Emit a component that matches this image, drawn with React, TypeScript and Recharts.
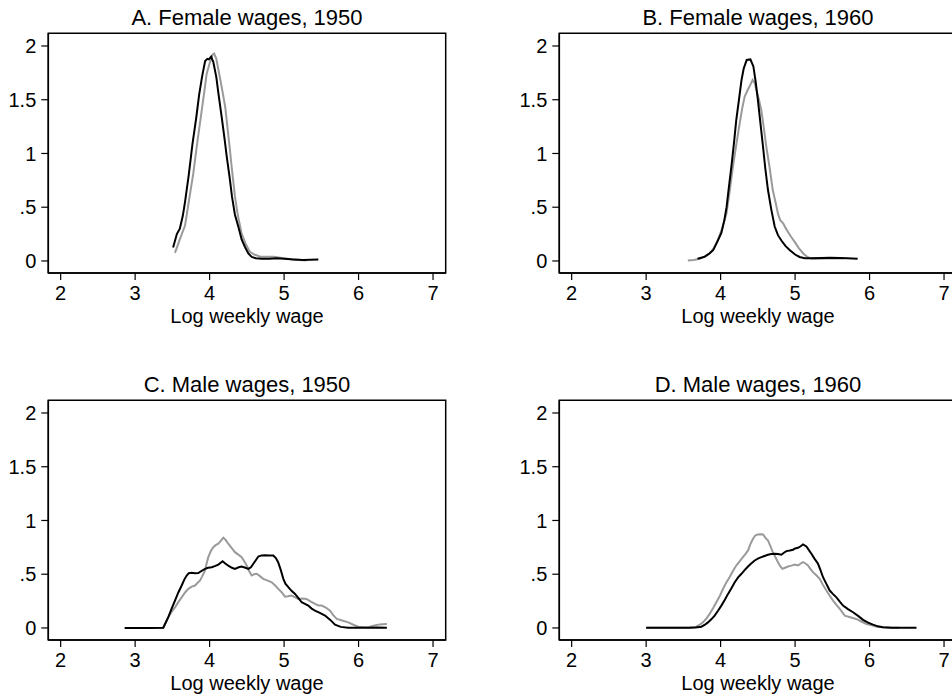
import React from 'react';
import { LineChart, Line, XAxis, YAxis, ReferenceArea } from 'recharts';

type Pt = [number, number];

// Kernel densities of log weekly wage.
// "dark" = black line, "light" = gray line.
const xTicks = [2, 3, 4, 5, 6, 7];
const yTicks = [0, 0.5, 1, 1.5, 2];

const female1950Dark: Pt[] = [
  [3.51, 0.125], [3.56, 0.25], [3.6, 0.3], [3.64, 0.42], [3.67, 0.55], [3.72, 0.8], [3.77, 1.09],
  [3.82, 1.33], [3.86, 1.55], [3.9, 1.72], [3.94, 1.86], [3.97, 1.88], [3.99, 1.875], [4.02, 1.9],
  [4.05, 1.85], [4.09, 1.71], [4.12, 1.55], [4.16, 1.35], [4.2, 1.14], [4.23, 0.97], [4.27, 0.77],
  [4.3, 0.6], [4.34, 0.43], [4.385, 0.32], [4.43, 0.2], [4.475, 0.13], [4.52, 0.07], [4.565, 0.037],
  [4.62, 0.025], [4.7, 0.02], [4.8, 0.02], [4.9, 0.025], [5.0, 0.02], [5.1, 0.015], [5.25, 0.01],
  [5.46, 0.013],
];
const female1950Light: Pt[] = [
  [3.535, 0.075], [3.6, 0.2], [3.67, 0.33], [3.72, 0.55], [3.78, 0.81], [3.83, 1.08], [3.89, 1.38],
  [3.93, 1.58], [3.96, 1.74], [4.0, 1.84], [4.04, 1.92], [4.06, 1.93], [4.09, 1.88], [4.14, 1.7],
  [4.18, 1.55], [4.21, 1.43], [4.27, 1.05], [4.3, 0.85], [4.34, 0.6], [4.38, 0.42], [4.43, 0.255],
  [4.49, 0.15], [4.54, 0.085], [4.6, 0.06], [4.68, 0.04], [4.78, 0.04], [4.86, 0.04], [4.95, 0.03],
  [5.04, 0.02], [5.14, 0.01], [5.22, 0.008], [5.3, 0.005],
];

const female1960Dark: Pt[] = [
  [3.69, 0.02], [3.74, 0.03], [3.79, 0.04], [3.85, 0.07], [3.9, 0.1], [3.95, 0.17], [4.01, 0.26],
  [4.05, 0.38], [4.08, 0.5], [4.11, 0.68], [4.145, 0.88], [4.18, 1.1], [4.21, 1.31], [4.25, 1.52],
  [4.28, 1.68], [4.31, 1.79], [4.35, 1.87], [4.4, 1.875], [4.44, 1.81], [4.47, 1.67], [4.5, 1.5],
  [4.535, 1.28], [4.57, 1.06], [4.6, 0.86], [4.636, 0.66], [4.68, 0.48], [4.726, 0.32], [4.77, 0.24],
  [4.816, 0.19], [4.87, 0.14], [4.93, 0.1], [5.0, 0.06], [5.06, 0.037], [5.13, 0.025], [5.2, 0.025],
  [5.35, 0.027], [5.47, 0.03], [5.6, 0.027], [5.7, 0.025], [5.84, 0.02],
];
const female1960Light: Pt[] = [
  [3.56, 0.005], [3.64, 0.01], [3.72, 0.02], [3.78, 0.04], [3.85, 0.07], [3.91, 0.12], [3.96, 0.19],
  [4.02, 0.3], [4.078, 0.44], [4.12, 0.64], [4.166, 0.88], [4.21, 1.08], [4.256, 1.28], [4.29, 1.42],
  [4.323, 1.53], [4.37, 1.6], [4.4, 1.64], [4.43, 1.685], [4.46, 1.65], [4.48, 1.59], [4.515, 1.5],
  [4.547, 1.4], [4.58, 1.24], [4.614, 1.06], [4.66, 0.86], [4.7, 0.66], [4.74, 0.54], [4.77, 0.44],
  [4.8, 0.38], [4.84, 0.35], [4.87, 0.31], [4.905, 0.27], [4.95, 0.22], [4.995, 0.177], [5.05, 0.12],
  [5.11, 0.07], [5.16, 0.04], [5.22, 0.02], [5.35, 0.02], [5.5, 0.025], [5.65, 0.022],
];

const male1950Dark: Pt[] = [
  [2.86, 0], [3.0, 0], [3.2, 0], [3.378, 0.002], [3.445, 0.1], [3.49, 0.18], [3.535, 0.255],
  [3.58, 0.33], [3.625, 0.395], [3.66, 0.45], [3.692, 0.488], [3.72, 0.51], [3.76, 0.513],
  [3.8, 0.508], [3.848, 0.51], [3.89, 0.53], [3.938, 0.55], [3.98, 0.56], [4.028, 0.565],
  [4.07, 0.575], [4.117, 0.59], [4.175, 0.62], [4.21, 0.6], [4.25, 0.58], [4.3, 0.56], [4.34, 0.55],
  [4.39, 0.565], [4.43, 0.572], [4.48, 0.56], [4.52, 0.55], [4.555, 0.565], [4.587, 0.597],
  [4.62, 0.63], [4.654, 0.665], [4.7, 0.675], [4.744, 0.677], [4.8, 0.675], [4.855, 0.674],
  [4.89, 0.65], [4.92, 0.612], [4.955, 0.54], [4.99, 0.457], [5.02, 0.41], [5.057, 0.379],
  [5.1, 0.345], [5.147, 0.317], [5.19, 0.28], [5.236, 0.239], [5.28, 0.225], [5.325, 0.208],
  [5.37, 0.18], [5.415, 0.161], [5.48, 0.14], [5.55, 0.115], [5.62, 0.075], [5.684, 0.03],
  [5.76, 0.01], [5.86, 0.002], [6.0, 0.002], [6.13, 0.002], [6.25, 0.004], [6.38, 0.003],
];
const male1950Light: Pt[] = [
  [2.86, 0], [3.0, 0], [3.2, 0], [3.378, 0.002], [3.445, 0.1], [3.49, 0.15], [3.535, 0.192],
  [3.58, 0.24], [3.625, 0.285], [3.67, 0.33], [3.714, 0.364], [3.76, 0.385], [3.804, 0.395],
  [3.84, 0.42], [3.87, 0.44], [3.9, 0.48], [3.938, 0.534], [3.96, 0.6], [3.982, 0.659], [4.02, 0.72],
  [4.05, 0.752], [4.08, 0.77], [4.117, 0.784], [4.15, 0.81], [4.184, 0.84], [4.215, 0.82],
  [4.25, 0.784], [4.3, 0.74], [4.34, 0.705], [4.39, 0.68], [4.43, 0.659], [4.465, 0.62],
  [4.498, 0.581], [4.53, 0.53], [4.565, 0.488], [4.6, 0.5], [4.632, 0.504], [4.68, 0.48],
  [4.72, 0.457], [4.78, 0.44], [4.834, 0.425], [4.88, 0.395], [4.922, 0.364], [4.97, 0.33],
  [5.012, 0.292], [5.05, 0.295], [5.1, 0.301], [5.15, 0.285], [5.19, 0.27], [5.25, 0.275],
  [5.3, 0.27], [5.36, 0.245], [5.415, 0.224], [5.46, 0.21], [5.505, 0.208], [5.56, 0.19],
  [5.617, 0.161], [5.66, 0.12], [5.707, 0.084], [5.78, 0.07], [5.862, 0.052], [5.93, 0.03],
  [5.996, 0.012], [6.06, 0.008], [6.13, 0.006], [6.2, 0.02], [6.265, 0.031], [6.32, 0.035],
  [6.38, 0.037],
];

const male1960Dark: Pt[] = [
  [3.0, 0.002], [3.2, 0.002], [3.4, 0.001], [3.585, 0.002], [3.66, 0.005], [3.742, 0.012],
  [3.79, 0.03], [3.83, 0.052], [3.875, 0.08], [3.92, 0.115], [3.965, 0.16], [4.01, 0.208],
  [4.055, 0.26], [4.1, 0.317], [4.145, 0.37], [4.19, 0.425], [4.235, 0.47], [4.28, 0.504],
  [4.325, 0.54], [4.368, 0.572], [4.41, 0.6], [4.458, 0.628], [4.5, 0.645], [4.548, 0.659],
  [4.59, 0.67], [4.636, 0.681], [4.68, 0.688], [4.726, 0.69], [4.77, 0.688], [4.816, 0.681],
  [4.85, 0.7], [4.883, 0.715], [4.93, 0.72], [4.972, 0.728], [5.0, 0.74], [5.04, 0.746],
  [5.075, 0.76], [5.106, 0.777], [5.152, 0.758], [5.19, 0.72], [5.219, 0.69], [5.26, 0.645],
  [5.308, 0.597], [5.34, 0.54], [5.375, 0.472], [5.42, 0.41], [5.465, 0.348], [5.51, 0.315],
  [5.555, 0.285], [5.6, 0.245], [5.644, 0.208], [5.71, 0.175], [5.778, 0.146], [5.85, 0.11],
  [5.913, 0.075], [5.98, 0.05], [6.046, 0.031], [6.11, 0.015], [6.18, 0.006], [6.3, 0.003],
  [6.405, 0.002], [6.52, 0.002], [6.63, 0.002],
];
const male1960Light: Pt[] = [
  [3.0, 0.002], [3.2, 0.002], [3.4, 0.002], [3.585, 0.004], [3.675, 0.012], [3.72, 0.03],
  [3.763, 0.052], [3.81, 0.09], [3.853, 0.131], [3.9, 0.185], [3.943, 0.239], [3.99, 0.3],
  [4.032, 0.364], [4.075, 0.42], [4.12, 0.472], [4.165, 0.53], [4.21, 0.581], [4.255, 0.62],
  [4.3, 0.659], [4.335, 0.69], [4.368, 0.721], [4.4, 0.78], [4.435, 0.83], [4.465, 0.86],
  [4.5, 0.87], [4.535, 0.872], [4.57, 0.87], [4.6, 0.84], [4.636, 0.814], [4.67, 0.76],
  [4.7, 0.705], [4.735, 0.66], [4.77, 0.612], [4.8, 0.575], [4.83, 0.55], [4.865, 0.56],
  [4.905, 0.572], [4.95, 0.58], [4.995, 0.59], [5.04, 0.581], [5.075, 0.6], [5.106, 0.612],
  [5.14, 0.6], [5.173, 0.581], [5.205, 0.55], [5.24, 0.519], [5.285, 0.49], [5.33, 0.457],
  [5.375, 0.4], [5.42, 0.348], [5.465, 0.3], [5.51, 0.255], [5.555, 0.215], [5.6, 0.177],
  [5.635, 0.145], [5.667, 0.115], [5.74, 0.1], [5.82, 0.084], [5.89, 0.06], [5.958, 0.037],
  [6.03, 0.025], [6.1, 0.012], [6.18, 0.006], [6.3, 0.003], [6.4, 0.002],
];

const X_DOMAIN: [number, number] = [1.834, 7.17];
const Y_DOMAIN: [number, number] = [-0.112, 2.118];
const FONT = '"Liberation Sans", Arial, Helvetica, sans-serif';
const frameLine = { stroke: '#000', strokeWidth: 1.5 };
const tickStyle = { fill: '#000', fontSize: 20, fontFamily: FONT };

const toPoints = (pts: Pt[]) => pts.map(([x, y]) => ({ x, y }));
const formatY = (v: number) => (v === 0.5 ? '.5' : String(v));

interface PanelProps {
  title: string;
  dark: Pt[];
  light: Pt[];
  left: number;
  top: number;
}

const Panel: React.FC<PanelProps> = ({ title, dark, light, left, top }) => (
  <div style={{ position: 'absolute', left, top }}>
    <LineChart width={476} height={331} margin={{ top: 33.3, right: 30.3, bottom: 0, left: 0 }}>
      <XAxis
        dataKey="x"
        type="number"
        domain={X_DOMAIN}
        ticks={xTicks}
        allowDataOverflow
        height={58}
        tickSize={7}
        tickMargin={6}
        axisLine={frameLine}
        tickLine={{ stroke: '#000', strokeWidth: 1.2 }}
        tick={tickStyle}
        label={{ value: 'Log weekly wage', position: 'insideBottom', offset: 8, fill: '#000', fontSize: 20, fontFamily: FONT }}
      />
      <YAxis
        type="number"
        domain={Y_DOMAIN}
        ticks={yTicks}
        allowDataOverflow
        width={48.3}
        tickSize={7}
        tickMargin={5}
        tickFormatter={formatY}
        axisLine={frameLine}
        tickLine={{ stroke: '#000', strokeWidth: 1.2 }}
        tick={tickStyle}
      />
      {/* plot-region frame, with the panel title above it */}
      <ReferenceArea
        x1={X_DOMAIN[0]}
        x2={X_DOMAIN[1]}
        y1={Y_DOMAIN[0]}
        y2={Y_DOMAIN[1]}
        fill="none"
        fillOpacity={0}
        stroke="#000"
        strokeWidth={1.5}
        ifOverflow="visible"
        label={{ value: title, position: 'top', offset: 8, fill: '#000', fontSize: 22, fontFamily: FONT }}
      />
      <Line
        data={toPoints(light)}
        dataKey="y"
        type="linear"
        stroke="#9a9a9a"
        strokeWidth={2}
        dot={false}
        isAnimationActive={false}
      />
      <Line
        data={toPoints(dark)}
        dataKey="y"
        type="linear"
        stroke="#000"
        strokeWidth={2}
        dot={false}
        isAnimationActive={false}
      />
    </LineChart>
  </div>
);

const App: React.FC = () => (
  <div
    style={{
      position: 'absolute',
      left: 0,
      top: 0,
      width: 952,
      height: 698,
      overflow: 'hidden',
      background: '#fff',
      fontFamily: FONT,
    }}
  >
    <Panel title="A. Female wages, 1950" dark={female1950Dark} light={female1950Light} left={0} top={0} />
    <Panel title="B. Female wages, 1960" dark={female1960Dark} light={female1960Light} left={511.3} top={0} />
    <Panel title="C. Male wages, 1950" dark={male1950Dark} light={male1950Light} left={0} top={367.4} />
    <Panel title="D. Male wages, 1960" dark={male1960Dark} light={male1960Light} left={511.3} top={367.4} />
  </div>
);

export default App;
